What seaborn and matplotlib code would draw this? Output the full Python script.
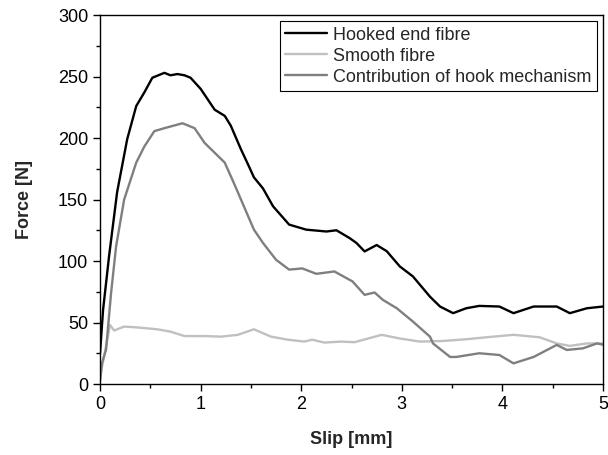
import matplotlib
matplotlib.use("Agg")
import matplotlib.pyplot as plt
from matplotlib.ticker import MultipleLocator
import seaborn as sns
import pandas as pd

# Hooked end fibre
hook_x = [0.0, 0.03, 0.09, 0.17, 0.27, 0.36, 0.44, 0.52, 0.58, 0.64, 0.70, 0.77, 0.84, 0.90,
          1.00, 1.14, 1.24, 1.30, 1.40, 1.48, 1.53, 1.62, 1.72, 1.88, 2.05, 2.25, 2.35, 2.48,
          2.55, 2.63, 2.75, 2.85, 2.98, 3.11, 3.28, 3.38, 3.51, 3.64, 3.77, 3.97, 4.11, 4.31,
          4.54, 4.67, 4.84, 5.0]
hook_y = [25, 60, 104, 156, 199, 226, 237, 249, 251, 253, 251, 252, 251, 249,
          240, 223, 218, 210, 191, 177, 168, 159, 144.5, 129.6, 125.5, 124, 125, 118.7,
          114.6, 107.8, 113, 108, 95.6, 87.5, 71, 63, 57.6, 61.6, 63.5, 63, 57.6, 63,
          63, 57.6, 61.6, 63]

# Smooth fibre
smooth_x = [0.0, 0.02, 0.10, 0.14, 0.24, 0.37, 0.57, 0.70, 0.84, 1.04, 1.20, 1.37, 1.53,
            1.70, 1.87, 2.03, 2.11, 2.23, 2.40, 2.53, 2.80, 2.98, 3.18, 3.41, 3.64, 3.84,
            4.11, 4.37, 4.54, 4.67, 4.84, 5.0]
smooth_y = [3, 14, 48, 43.5, 46.7, 46, 44.5, 42.6, 39, 39, 38.5, 40, 44.5,
            38.5, 36, 34.5, 36, 33.7, 34.5, 34, 40, 37, 34.5, 35, 36.4, 38,
            40, 38, 33, 31, 33, 33]

# Contribution of hook mechanism
contrib_x = [0.0, 0.02, 0.06, 0.11, 0.16, 0.24, 0.36, 0.44, 0.54, 0.64, 0.82, 0.94, 1.04,
             1.14, 1.24, 1.33, 1.43, 1.53, 1.62, 1.75, 1.88, 2.01, 2.15, 2.33, 2.51, 2.63,
             2.73, 2.81, 2.95, 3.11, 3.28, 3.31, 3.48, 3.54, 3.77, 3.97, 4.11, 4.31, 4.54,
             4.64, 4.80, 4.94, 5.0]
contrib_y = [3, 17, 28, 74, 112, 150, 180, 193, 205.6, 208, 212, 208, 196,
             188, 180, 163.5, 144.5, 125.5, 114.7, 101, 93, 94, 89.6, 91.5, 83.4, 72.5,
             74.4, 68.5, 61.6, 50.8, 38.5, 33, 22, 22, 25, 23.6, 16.8, 22, 31.8,
             27.7, 29, 33, 32]

labels = ["Hooked end fibre", "Smooth fibre", "Contribution of hook mechanism"]
colors = ["#000000", "#c0c0c0", "#7f7f7f"]

sns.set_style("white")
plt.rcParams["font.family"] = ["Liberation Sans", "DejaVu Sans"]

fig = plt.figure(figsize=(6.08, 4.55), dpi=100)
ax = fig.add_axes([0.1645, 0.156, 0.8273, 0.811])

for xs, ys, lab, col in zip([hook_x, smooth_x, contrib_x],
                            [hook_y, smooth_y, contrib_y], labels, colors):
    df = pd.DataFrame({"x": xs, "y": ys})
    sns.lineplot(data=df, x="x", y="y", ax=ax, color=col, linewidth=1.7,
                 label=lab, sort=False, estimator=None)

ax.set_xlim(0, 5)
ax.set_ylim(0, 300)
ax.xaxis.set_major_locator(MultipleLocator(1))
ax.xaxis.set_minor_locator(MultipleLocator(0.5))
ax.yaxis.set_major_locator(MultipleLocator(50))
ax.yaxis.set_minor_locator(MultipleLocator(25))
ax.tick_params(which="both", direction="out", top=False, right=False,
               bottom=True, left=True, colors="black", labelsize=13)
ax.tick_params(which="major", length=5, width=1)
ax.tick_params(which="minor", length=3, width=1)
for s in ax.spines.values():
    s.set_color("black")
    s.set_linewidth(1.0)

ax.set_xlabel("Slip [mm]", fontsize=13, fontweight="bold", labelpad=13)
ax.set_ylabel("Force [N]", fontsize=13, fontweight="bold", labelpad=18)

leg = ax.legend(loc="upper right", fontsize=13, frameon=True, fancybox=False,
                edgecolor="black", framealpha=1, handlelength=2.3,
                handletextpad=0.35, borderpad=0.3, labelspacing=0.22,
                borderaxespad=0.35)
leg.get_frame().set_linewidth(0.8)

fig.savefig("out.png", dpi=100)
